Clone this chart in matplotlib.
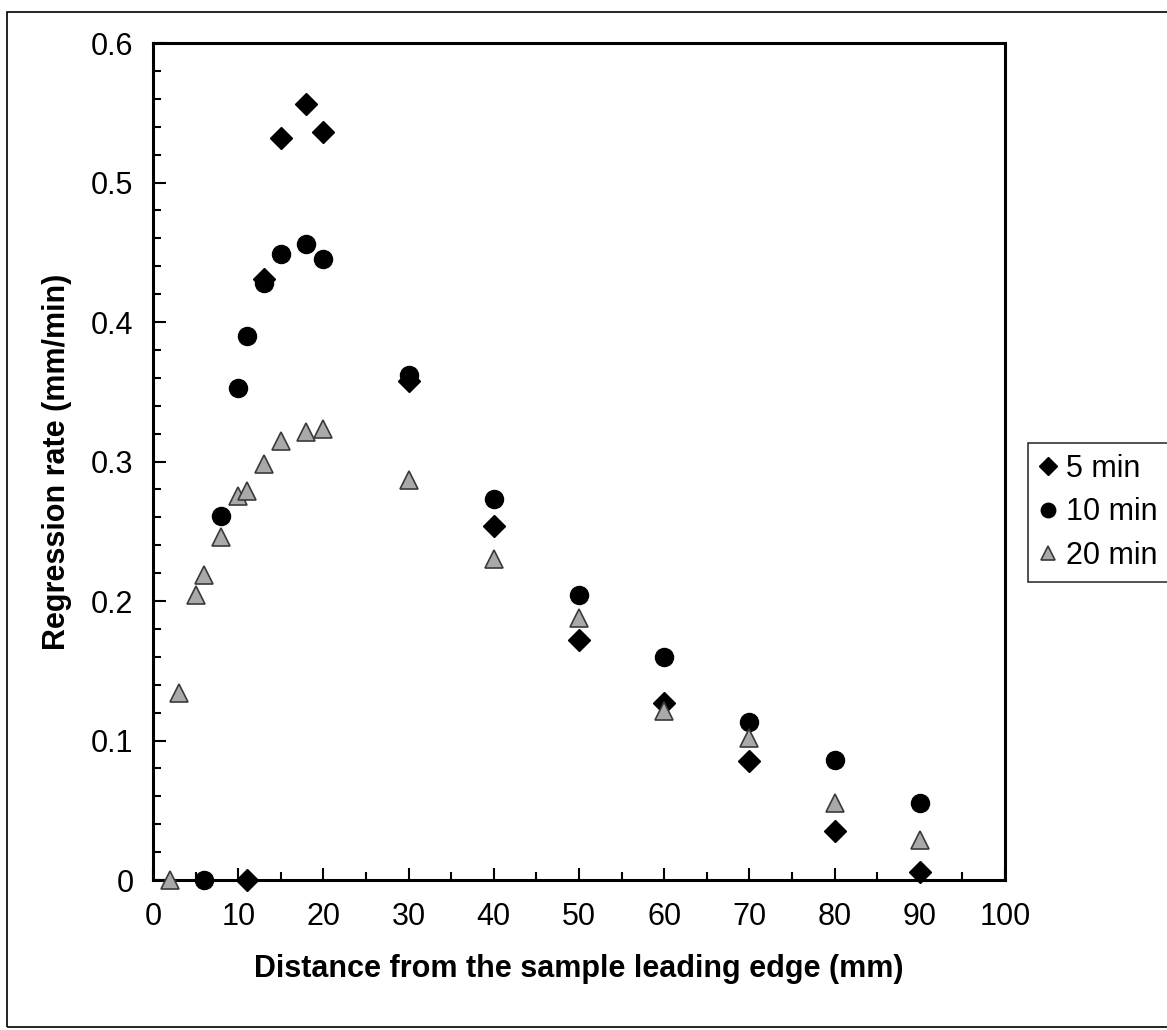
import numpy as np
import matplotlib
matplotlib.use("Agg")
import matplotlib.pyplot as plt
from matplotlib.patches import Rectangle
from matplotlib.ticker import MultipleLocator

plt.rcParams['font.family'] = ['Liberation Sans', 'DejaVu Sans']

# distance from leading edge (mm) and regression rate (mm/min)
x_5 = [11, 13, 15, 18, 20, 30, 40, 50, 60, 70, 80, 90]
y_5 = [0.0, 0.431, 0.532, 0.556, 0.536, 0.358, 0.254, 0.172, 0.127, 0.085, 0.035, 0.006]

x_10 = [6, 8, 10, 11, 13, 15, 18, 20, 30, 40, 50, 60, 70, 80, 90]
y_10 = [0.0, 0.261, 0.353, 0.39, 0.428, 0.449, 0.456, 0.445, 0.362, 0.273, 0.204, 0.16, 0.113, 0.086, 0.055]

x_20 = [2, 3, 5, 6, 8, 10, 11, 13, 15, 18, 20, 30, 40, 50, 60, 70, 80, 90]
y_20 = [0.0, 0.134, 0.204, 0.219, 0.246, 0.275, 0.279, 0.298, 0.315, 0.321, 0.323,
        0.287, 0.23, 0.188, 0.121, 0.102, 0.055, 0.029]

labels = ['5 min', '10 min', '20 min']
ytick_labels = ['0', '0.1', '0.2', '0.3', '0.4', '0.5', '0.6']

fig = plt.figure(figsize=(11.67, 10.30), dpi=100)
ax = fig.add_axes([0.1311, 0.1456, 0.7301, 0.8126])

ax.plot(x_5, y_5, 'D', ms=11.5, color='black', mec='black', label=labels[0], clip_on=False, zorder=3)
ax.plot(x_10, y_10, 'o', ms=13, color='black', mec='black', label=labels[1], clip_on=False, zorder=3)
ax.plot(x_20, y_20, '^', ms=12.5, mfc='#a9a9a9', mec='#3a3a3a', mew=1.2, label=labels[2],
        clip_on=False, zorder=4)

ax.set_xlim(0, 100)
ax.set_ylim(0, 0.6)
ax.xaxis.set_major_locator(MultipleLocator(10))
ax.xaxis.set_minor_locator(MultipleLocator(5))
ax.yaxis.set_minor_locator(MultipleLocator(0.02))
ax.set_yticks(np.arange(0, 0.61, 0.1))
ax.set_yticklabels(ytick_labels)

ax.tick_params(which='both', direction='in', labelsize=22, width=1.5)
ax.tick_params(which='major', length=9)
ax.tick_params(which='minor', length=6)
ax.tick_params(axis='x', pad=16)
ax.tick_params(axis='y', pad=14)
for sp in ax.spines.values():
    sp.set_linewidth(2.2)

ax.set_xlabel('Distance from the sample leading edge (mm)', fontsize=22, fontweight='bold', labelpad=16)
ax.set_ylabel('Regression rate (mm/min)', fontsize=22, fontweight='bold', labelpad=14)

leg = fig.legend(loc='upper left', bbox_to_anchor=(1028 / 1167, 1 - 443 / 1030),
                 fontsize=22, frameon=True, fancybox=False, edgecolor='black',
                 handlelength=0.6, handletextpad=0.3, borderpad=0.35, labelspacing=0.45,
                 markerscale=0.8, borderaxespad=0)
leg.get_frame().set_linewidth(1.2)

fig.patches.append(Rectangle((7 / 1167, 3 / 1030), 1.2, 1 - 15 / 1030,
                             transform=fig.transFigure, fill=False, edgecolor='black',
                             linewidth=1.2))

fig.savefig('out.png', dpi=100)
